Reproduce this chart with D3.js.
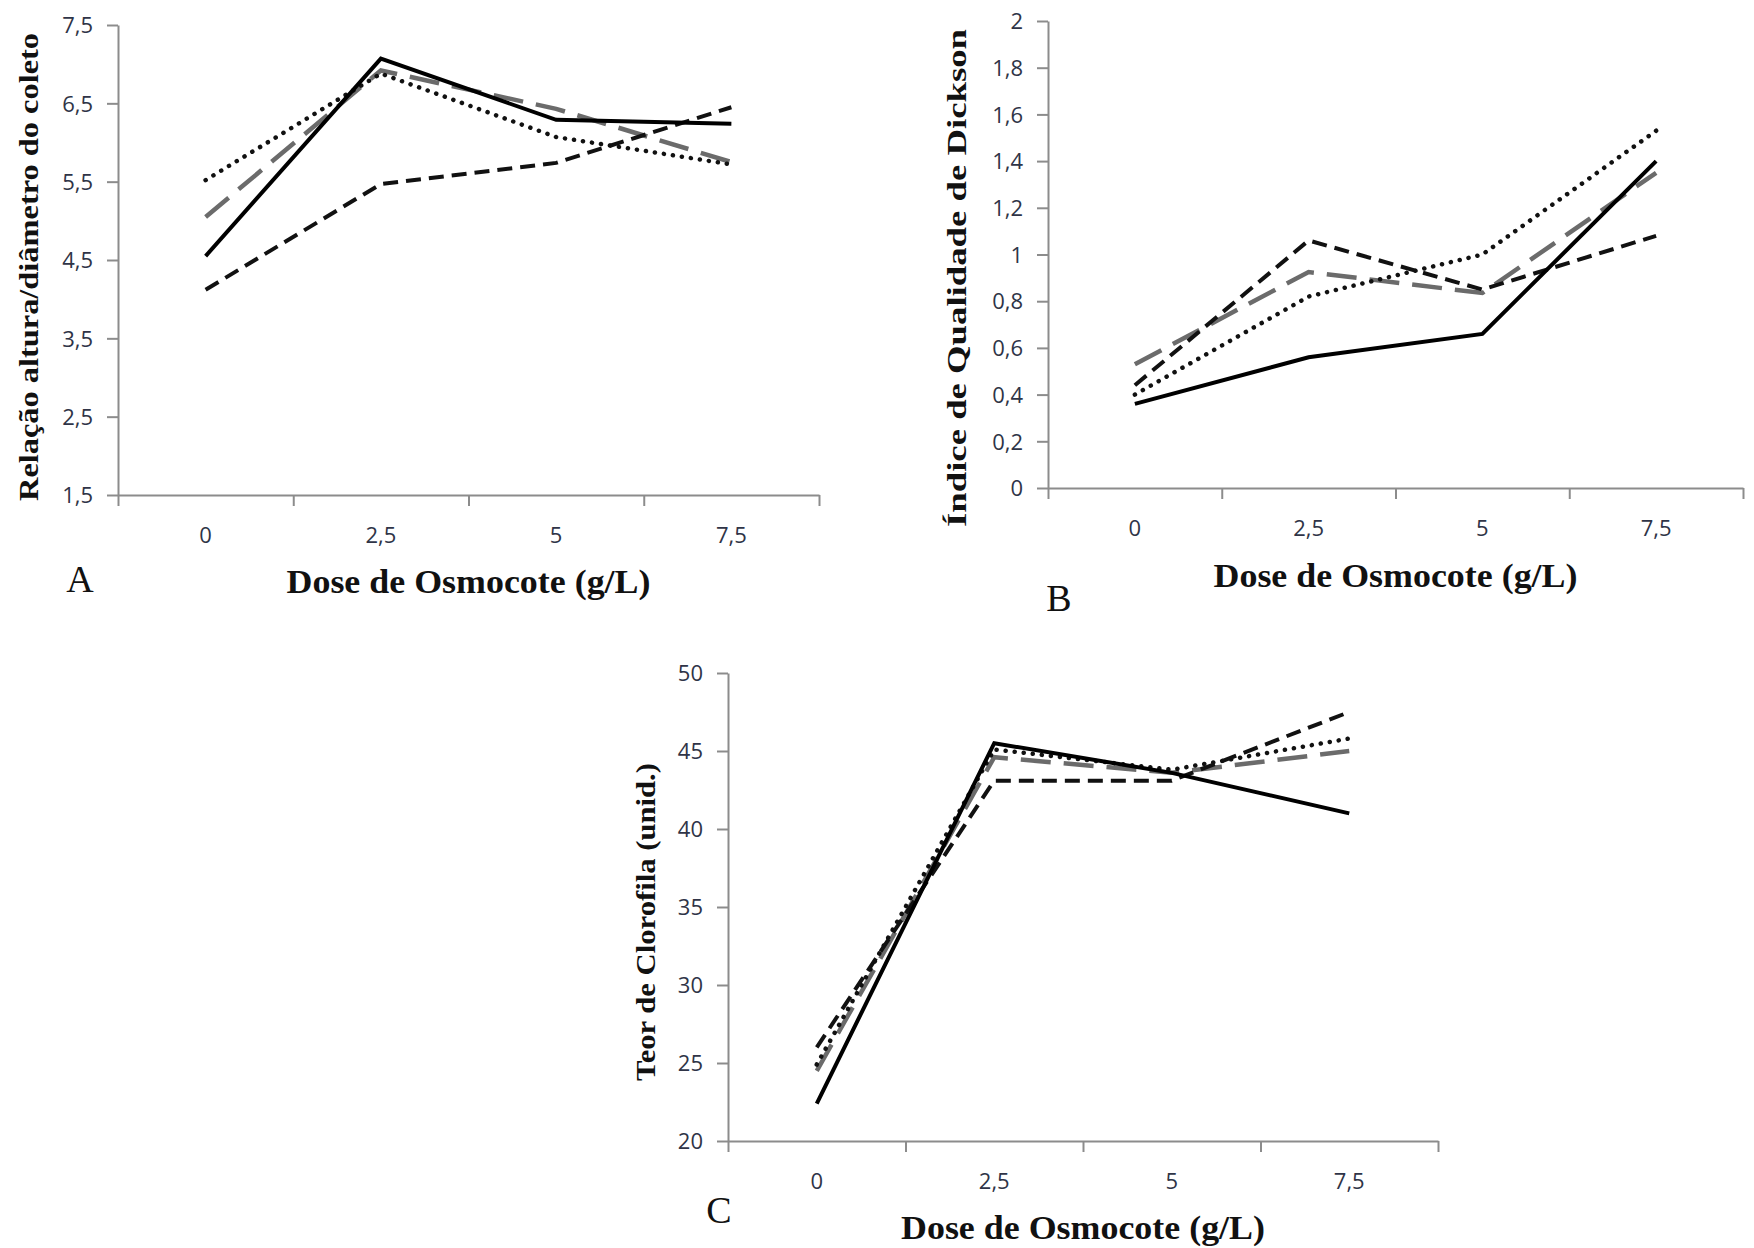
<!DOCTYPE html>
<html>
<head>
<meta charset="utf-8">
<script src="https://cdn.jsdelivr.net/npm/d3@7"></script>
<style>
  html, body { margin: 0; padding: 0; background: #fff; }
  svg { display: block; }
  .tick-label { font-family: "Open Sans", sans-serif; font-size: 22px; fill: #2f3447; }
  .axis-title { font-family: "Liberation Serif", "Times New Roman", serif; font-weight: bold; fill: #111; }
  .panel-letter { font-family: "Liberation Serif", "Times New Roman", serif; font-size: 38px; fill: #111; }
</style>
</head>
<body>
<div id="chart"></div>
<script>
// doses of Osmocote (categories) — same for the three panels
const doses = ["0", "2,5", "5", "7,5"];

// series: solid, short dash (black), long dash (gray), dotted
const solidA = [4.55, 7.07, 6.29, 6.24];
const shortA = [4.12, 5.47, 5.74, 6.45];
const longA  = [5.05, 6.92, 6.43, 5.75];
const dotA   = [5.52, 6.88, 6.07, 5.72];

const solidB = [0.36, 0.56, 0.66, 1.40];
const shortB = [0.44, 1.06, 0.85, 1.08];
const longB  = [0.53, 0.925, 0.835, 1.35];
const dotB   = [0.40, 0.82, 1.00, 1.53];

const solidC = [22.4, 45.5, 43.6, 41.0];
const shortC = [26.0, 43.1, 43.1, 47.5];
const longC  = [24.5, 44.6, 43.6, 45.0];
const dotC   = [24.9, 45.1, 43.8, 45.8];

const ticksA = [1.5, 2.5, 3.5, 4.5, 5.5, 6.5, 7.5];
const ticksB = [0, 0.2, 0.4, 0.6, 0.8, 1, 1.2, 1.4, 1.6, 1.8, 2];
const ticksC = [20, 25, 30, 35, 40, 45, 50];

const yTitleA = "Relação altura/diâmetro do coleto";
const yTitleB = "Índice  de  Qualidade  de  Dickson";
const yTitleC = "Teor de  Clorofila (unid.)";
const xTitle = "Dose de Osmocote (g/L)";

// line styles (drawn in this order, solid on top)
const styles = {
  long:  { stroke: "#6b6b6b", width: 4.5, dash: "30 13", cap: "butt" },
  dot:   { stroke: "#111", width: 4.5, dash: "0.1 9", cap: "round" },
  short: { stroke: "#111", width: 4, dash: "15 8", cap: "butt" },
  solid: { stroke: "#000", width: 4, dash: null, cap: "butt" }
};

const W = 1754, H = 1248;
const svg = d3.select("#chart").append("svg").attr("width", W).attr("height", H);

// panel layouts
const panels = [
  { x0: 118, x1: 819, y0: 25, y1: 495, domain: [1.5, 7.5], ticks: ticksA,
    series: { long: longA, dot: dotA, short: shortA, solid: solidA },
    yTitle: yTitleA, yTitleX: 29, yTitleY: 267, yTitleLen: 468,
    xTitleY: 593, letter: "A", letterX: 80, letterY: 592 },
  { x0: 1048, x1: 1743, y0: 21, y1: 488, domain: [0, 2], ticks: ticksB,
    series: { long: longB, dot: dotB, short: shortB, solid: solidB },
    yTitle: yTitleB, yTitleX: 957, yTitleY: 278, yTitleLen: 498,
    xTitleY: 587, letter: "B", letterX: 1059, letterY: 611 },
  { x0: 728, x1: 1438, y0: 673, y1: 1141, domain: [20, 50], ticks: ticksC,
    series: { long: longC, dot: dotC, short: shortC, solid: solidC },
    yTitle: yTitleC, yTitleX: 646, yTitleY: 922, yTitleLen: 318,
    xTitleY: 1239, letter: "C", letterX: 719, letterY: 1223 }
];

const fmt = v => String(+v.toFixed(1)).replace(".", ",");

panels.forEach(p => {
  const g = svg.append("g");
  const x = d3.scaleBand().domain(doses).range([p.x0, p.x1]);
  const y = d3.scaleLinear().domain(p.domain).range([p.y1, p.y0]);
  const xb = d3.scaleLinear().domain([0, doses.length]).range([p.x0, p.x1]);

  // y axis
  const ya = g.append("g").attr("transform", `translate(${p.x0},0)`)
    .call(d3.axisLeft(y).tickValues(p.ticks).tickSize(11).tickSizeOuter(0).tickFormat(fmt));
  ya.select(".domain").attr("stroke", "#8c8c8c").attr("stroke-width", 2);
  ya.selectAll(".tick line").attr("stroke", "#8c8c8c").attr("stroke-width", 2);
  ya.selectAll(".tick text").attr("class", "tick-label").attr("x", -25).attr("dy", "0.35em");

  // x axis: ticks at category boundaries, labels centred in the bands
  const xa = g.append("g").attr("transform", `translate(0,${p.y1})`)
    .call(d3.axisBottom(xb).tickValues(d3.range(doses.length + 1)).tickSize(11).tickSizeOuter(0).tickFormat(""));
  xa.select(".domain").attr("stroke", "#8c8c8c").attr("stroke-width", 2);
  xa.selectAll(".tick line").attr("stroke", "#8c8c8c").attr("stroke-width", 2);
  g.append("g").selectAll("text").data(doses).enter().append("text")
    .attr("class", "tick-label")
    .attr("x", d => x(d) + x.bandwidth() / 2)
    .attr("y", p.y1 + 40).attr("dy", "0.35em")
    .attr("text-anchor", "middle").text(d => d);

  // series
  const line = d3.line().x((d, i) => x(doses[i]) + x.bandwidth() / 2).y(d => y(d));
  Object.entries(styles).forEach(([k, s]) => {
    g.append("path").datum(p.series[k])
      .attr("d", line).attr("fill", "none")
      .attr("stroke", s.stroke).attr("stroke-width", s.width)
      .attr("stroke-dasharray", s.dash).attr("stroke-linecap", s.cap)
      .attr("stroke-linejoin", "miter");
  });

  // titles
  g.append("text").attr("class", "axis-title")
    .attr("transform", `translate(${p.yTitleX},${p.yTitleY}) rotate(-90)`)
    .attr("text-anchor", "middle").attr("dy", "0.35em")
    .style("font-size", "27px")
    .attr("textLength", p.yTitleLen).attr("lengthAdjust", "spacingAndGlyphs")
    .text(p.yTitle);
  g.append("text").attr("class", "axis-title")
    .attr("x", (p.x0 + p.x1) / 2)
    .attr("y", p.xTitleY).attr("text-anchor", "middle")
    .style("font-size", "33px")
    .attr("textLength", 364).attr("lengthAdjust", "spacingAndGlyphs")
    .text(xTitle);
  g.append("text").attr("class", "panel-letter")
    .attr("x", p.letterX).attr("y", p.letterY).attr("text-anchor", "middle")
    .text(p.letter);
});
</script>
</body>
</html>
